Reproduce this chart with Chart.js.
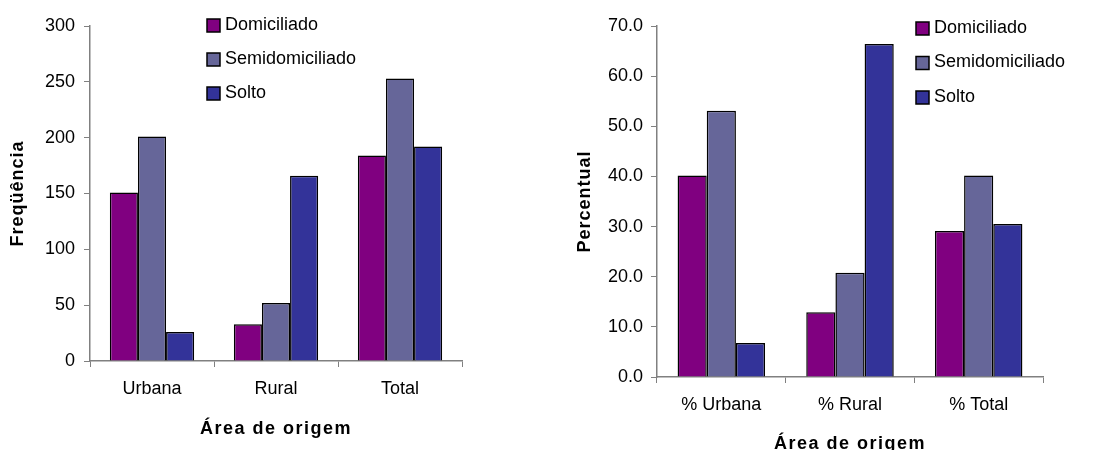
<!DOCTYPE html>
<html>
<head>
<meta charset="utf-8">
<script src="https://cdn.jsdelivr.net/npm/chart.js@4/dist/chart.umd.min.js"></script>
<style>
  html, body { margin: 0; padding: 0; background: #fff; overflow: hidden; }
  #page { position: relative; width: 1098px; height: 450px; overflow: hidden; }
  .box { position: absolute; top: 0; }
</style>
</head>
<body>
<div id="page">
  <div class="box" style="left:0;width:549px;height:450px"><canvas id="freqChart"></canvas></div>
  <div class="box" style="left:549px;width:549px;height:456px"><canvas id="pctChart"></canvas></div>
</div>
<script>
const seriesNames = ['Domiciliado', 'Semidomiciliado', 'Solto'];
const seriesColors = ['#800080', '#666699', '#333399'];

const freqLabels = ['Urbana', 'Rural', 'Total'];
const freqDomiciliado = [151, 33, 184];
const freqSemidomiciliado = [201, 52, 253];
const freqSolto = [26, 166, 192];

const pctLabels = ['% Urbana', '% Rural', '% Total'];
const pctDomiciliado = [40.2, 12.9, 29.1];
const pctSemidomiciliado = [53.1, 20.8, 40.2];
const pctSolto = [6.8, 66.4, 30.5];

const fontFamily = '"Liberation Sans", Arial, sans-serif';
Chart.defaults.font.family = fontFamily;
Chart.defaults.color = '#000';

// legend drawn inside the plot, like the original spreadsheet chart
const boxLegend = {
  id: 'boxLegend',
  afterDraw(chart, args, opts) {
    const ctx = chart.ctx;
    ctx.save();
    ctx.font = '18px ' + fontFamily;
    ctx.textBaseline = 'middle';
    chart.data.datasets.forEach((ds, i) => {
      const y = opts.y + i * opts.rowGap;
      ctx.fillStyle = ds.backgroundColor;
      ctx.fillRect(opts.x, y, 13, 13);
      ctx.strokeStyle = '#000';
      ctx.lineWidth = 1.5;
      ctx.strokeRect(opts.x, y, 13, 13);
      ctx.fillStyle = '#000';
      ctx.fillText(ds.label, opts.x + 18, y + 6);
    });
    ctx.restore();
  }
};

// axis titles in the original are slightly letter-spaced
const spacedTitles = {
  id: 'spacedTitles',
  afterUpdate(chart) {
    Object.values(chart.scales).forEach(s => {
      if (s._spaced) return;
      const orig = s.drawTitle.bind(s);
      const gap = s.isHorizontal() ? '1.5px' : '1px';
      s.drawTitle = function () {
        this.ctx.save();
        this.ctx.letterSpacing = gap;
        orig();
        this.ctx.restore();
      };
      s._spaced = true;
    });
  }
};

function makeDatasets(values) {
  return values.map((v, i) => ({
    label: seriesNames[i],
    data: v,
    backgroundColor: seriesColors[i],
    borderColor: '#000',
    borderWidth: 1.5,
    categoryPercentage: 0.68,
    barPercentage: 1.0
  }));
}

function makeChart(id, labels, values, cfg) {
  return new Chart(document.getElementById(id), {
    type: 'bar',
    data: { labels: labels, datasets: makeDatasets(values) },
    options: {
      responsive: true,
      maintainAspectRatio: false,
      animation: false,
      layout: { padding: { top: 26, right: cfg.padRight, left: 0, bottom: 0 } },
      plugins: {
        legend: { display: false },
        tooltip: { enabled: false },
        boxLegend: cfg.legend
      },
      scales: {
        x: {
          afterFit: s => { s.height = cfg.xHeight; },
          grid: { offset: true, drawOnChartArea: false, drawTicks: true, tickLength: 6, color: '#808080' },
          border: { color: '#808080', width: 1.5 },
          ticks: { font: { size: 18 }, padding: 11, color: '#000' },
          title: {
            display: true, text: 'Área de origem',
            font: { size: 18, weight: 'bold' },
            padding: { top: 0, bottom: cfg.xTitlePad }
          }
        },
        y: {
          min: 0, max: cfg.yMax,
          afterFit: s => { s.width = cfg.yWidth; },
          grid: { drawOnChartArea: false, drawTicks: true, tickLength: 6, color: '#808080' },
          border: { color: '#808080', width: 1.5 },
          ticks: {
            stepSize: cfg.step, font: { size: 18 }, padding: cfg.yTickPad, color: '#000',
            callback: cfg.fmt
          },
          title: {
            display: true, text: cfg.yTitle,
            font: { size: 18, weight: 'bold' },
            padding: { top: cfg.yTitlePad, bottom: 0 }
          }
        }
      }
    },
    plugins: [boxLegend, spacedTitles]
  });
}

makeChart('freqChart', freqLabels, [freqDomiciliado, freqSemidomiciliado, freqSolto], {
  padRight: 87, xHeight: 89, yWidth: 90, yMax: 300, step: 50,
  yTitle: 'Freqüência', yTitlePad: 7, xTitlePad: 10, yTickPad: 9,
  fmt: v => v,
  legend: { x: 207, y: 19, rowGap: 34 }
});

makeChart('pctChart', pctLabels, [pctDomiciliado, pctSemidomiciliado, pctSolto], {
  padRight: 55, xHeight: 79, yWidth: 108, yMax: 70, step: 10,
  yTitle: 'Percentual', yTitlePad: 25, xTitlePad: 1, yTickPad: 8,
  fmt: v => v.toFixed(1),
  legend: { x: 367, y: 22, rowGap: 34.5 }
});
</script>
</body>
</html>
